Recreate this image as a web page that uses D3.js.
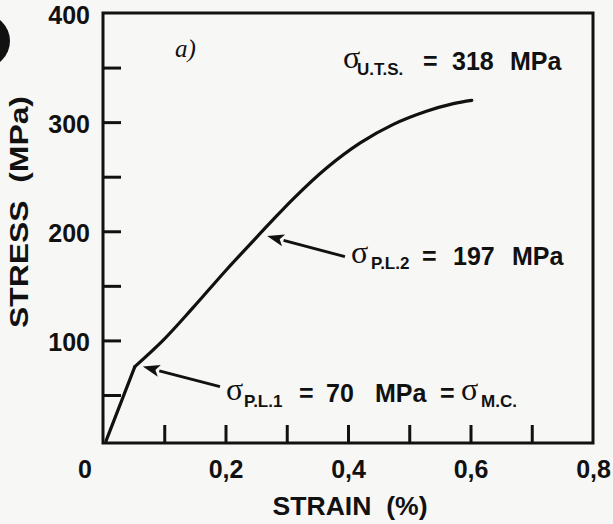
<!DOCTYPE html>
<html>
<head>
<meta charset="utf-8">
<script src="https://cdn.jsdelivr.net/npm/d3@7"></script>
<style>
  html, body { margin: 0; padding: 0; background: #f7f7f5; }
  svg { display: block; }
  text { fill: #111; }
</style>
</head>
<body>
<svg id="chart" width="613" height="524"></svg>
<script>
// ---- data ----
const strain = [0.005, 0.052, 0.098, 0.147, 0.202, 0.240, 0.275, 0.311, 0.365, 0.420, 0.474, 0.528, 0.572, 0.602];
const stress = [8, 76, 100, 130, 165, 188, 209, 230, 258, 281, 298, 310, 317, 320];
const xTickLabels = [0.2, 0.4, 0.6, 0.8];
const xMinorTicks = [0.1, 0.2, 0.3, 0.4, 0.5, 0.6, 0.7];
const yTickLabels = [100, 200, 300, 400];
const yMinorTicks = [50, 100, 150, 200, 250, 300, 350];
const utsValue = 318, pl2Value = 197, pl1Value = 70;
// arrows: [tailStrain, tailStress, tipStrain, tipStress]
const arrowPL1 = [0.191, 57.6, 0.065, 76];
const arrowPL2 = [0.395, 176.7, 0.268, 195.7];

// ---- layout ----
const svg = d3.select("#chart");
const L = 103, R = 593, T = 13, B = 443;
const x = d3.scaleLinear().domain([0, 0.8]).range([L, R]);
const y = d3.scaleLinear().domain([6, 400]).range([B, T]);
const ink = "#111";
const sans = "'Liberation Sans', Arial, Helvetica, sans-serif";
const serif = "'Liberation Serif', 'Times New Roman', serif";
const commaFmt = d => d3.format(".1f")(d).replace(".", ",");

// decorative partial disc at top-left
svg.append("circle").attr("cx", -17).attr("cy", 41).attr("r", 27).attr("fill", ink);

// minor/inner ticks
svg.append("g").attr("transform", `translate(${L},0)`)
  .call(d3.axisLeft(y).tickValues(yMinorTicks).tickSizeInner(-18).tickSizeOuter(0).tickFormat(""))
  .call(g => g.select(".domain").remove())
  .call(g => g.selectAll("line").attr("stroke", ink).attr("stroke-width", 3));
svg.append("g").attr("transform", `translate(0,${B})`)
  .call(d3.axisBottom(x).tickValues(xMinorTicks).tickSizeInner(-18).tickSizeOuter(0).tickFormat(""))
  .call(g => g.select(".domain").remove())
  .call(g => g.selectAll("line").attr("stroke", ink).attr("stroke-width", 3));

// tick labels
svg.append("g").attr("transform", `translate(${L},0)`)
  .call(d3.axisLeft(y).tickValues(yTickLabels).tickSize(0).tickPadding(13))
  .call(g => g.select(".domain").remove())
  .call(g => g.selectAll("text").attr("font-family", sans).attr("font-weight", "bold")
    .attr("font-size", 25).attr("fill", ink).attr("dy", "0.42em"));
svg.append("g").attr("transform", `translate(0,${B})`)
  .call(d3.axisBottom(x).tickValues(xTickLabels).tickSize(0).tickPadding(17).tickFormat(commaFmt))
  .call(g => g.select(".domain").remove())
  .call(g => g.selectAll("text").attr("font-family", sans).attr("font-weight", "bold")
    .attr("font-size", 25).attr("fill", ink));
svg.append("text").attr("x", x(0) - 18).attr("y", 478).attr("text-anchor", "middle")
  .attr("font-family", sans).attr("font-weight", "bold").attr("font-size", 25).text("0");

// frame
svg.append("rect").attr("x", L).attr("y", T).attr("width", R - L).attr("height", B - T)
  .attr("fill", "none").attr("stroke", ink).attr("stroke-width", 3);

// axis titles
svg.append("text").attr("x", 350).attr("y", 515).attr("text-anchor", "middle")
  .attr("font-family", sans).attr("font-weight", "bold").attr("font-size", 25)
  .attr("textLength", 155).attr("lengthAdjust", "spacingAndGlyphs")
  .attr("xml:space", "preserve").text("STRAIN  (%)");
svg.append("text").attr("transform", "translate(28,212) rotate(-90)").attr("text-anchor", "middle")
  .attr("font-family", sans).attr("font-weight", "bold").attr("font-size", 25)
  .attr("textLength", 232).attr("lengthAdjust", "spacingAndGlyphs")
  .attr("xml:space", "preserve").text("STRESS  (MPa)");

// curve: linear elastic segment up to the first kink, smooth beyond it
const pts = strain.map((s, i) => [s, stress[i]]);
const line = d3.line().x(d => x(d[0])).y(d => y(d[1]));
svg.append("path").datum(pts.slice(0, 2))
  .attr("d", line.curve(d3.curveLinear))
  .attr("fill", "none").attr("stroke", ink).attr("stroke-width", 3.2)
  .attr("stroke-linejoin", "round").attr("stroke-linecap", "round");
svg.append("path").datum(pts.slice(1))
  .attr("d", line.curve(d3.curveCatmullRom.alpha(0.5)))
  .attr("fill", "none").attr("stroke", ink).attr("stroke-width", 3.2)
  .attr("stroke-linejoin", "round").attr("stroke-linecap", "round");

// arrows
function arrow(a) {
  const x1 = x(a[0]), y1 = y(a[1]), x2 = x(a[2]), y2 = y(a[3]);
  const ang = Math.atan2(y2 - y1, x2 - x1);
  const len = 17, hw = 6;
  const bx = x2 - len * Math.cos(ang), by = y2 - len * Math.sin(ang);
  svg.append("line").attr("x1", x1).attr("y1", y1).attr("x2", bx).attr("y2", by)
    .attr("stroke", ink).attr("stroke-width", 2.8);
  const px = -Math.sin(ang) * hw, py = Math.cos(ang) * hw;
  svg.append("path").attr("d", `M${x2},${y2}L${bx + px},${by + py}L${bx + 4*Math.cos(ang)},${by + 4*Math.sin(ang)}L${bx - px},${by - py}Z`)
    .attr("fill", ink);
}
arrow(arrowPL1);
arrow(arrowPL2);

// annotation text segments
function seg(txt, sx, sy, opts) {
  return svg.append("text").attr("x", sx).attr("y", sy)
    .attr("font-family", opts.serif ? serif : sans)
    .attr("font-weight", opts.serif ? "normal" : "bold")
    .attr("font-style", opts.italic ? "italic" : "normal")
    .attr("font-size", opts.size).text(txt);
}
// U.T.S.
seg("σ", 343, 68, {serif: true, size: 32});
seg("U.T.S.", 357, 75, {size: 17});
seg("=", 423, 70, {size: 25});
seg(String(utsValue), 452, 70, {size: 25});
seg("MPa", 510, 70, {size: 25});
// P.L.2
seg("σ", 351, 263, {serif: true, size: 32});
seg("P.L.2", 371, 269, {size: 17});
seg("=", 422, 265, {size: 25});
seg(String(pl2Value), 453, 265, {size: 25});
seg("MPa", 512, 265, {size: 25});
// P.L.1
seg("σ", 226, 400, {serif: true, size: 32});
seg("P.L.1", 244, 407, {size: 17});
seg("=", 299, 402, {size: 25});
seg(String(pl1Value), 326, 402, {size: 25});
seg("MPa", 375, 402, {size: 25});
seg("=", 440, 402, {size: 25});
seg("σ", 461, 400, {serif: true, size: 32});
seg("M.C.", 481, 407, {size: 17});
// panel label
seg("a)", 175, 57, {serif: true, italic: true, size: 25});
</script>
</body>
</html>
